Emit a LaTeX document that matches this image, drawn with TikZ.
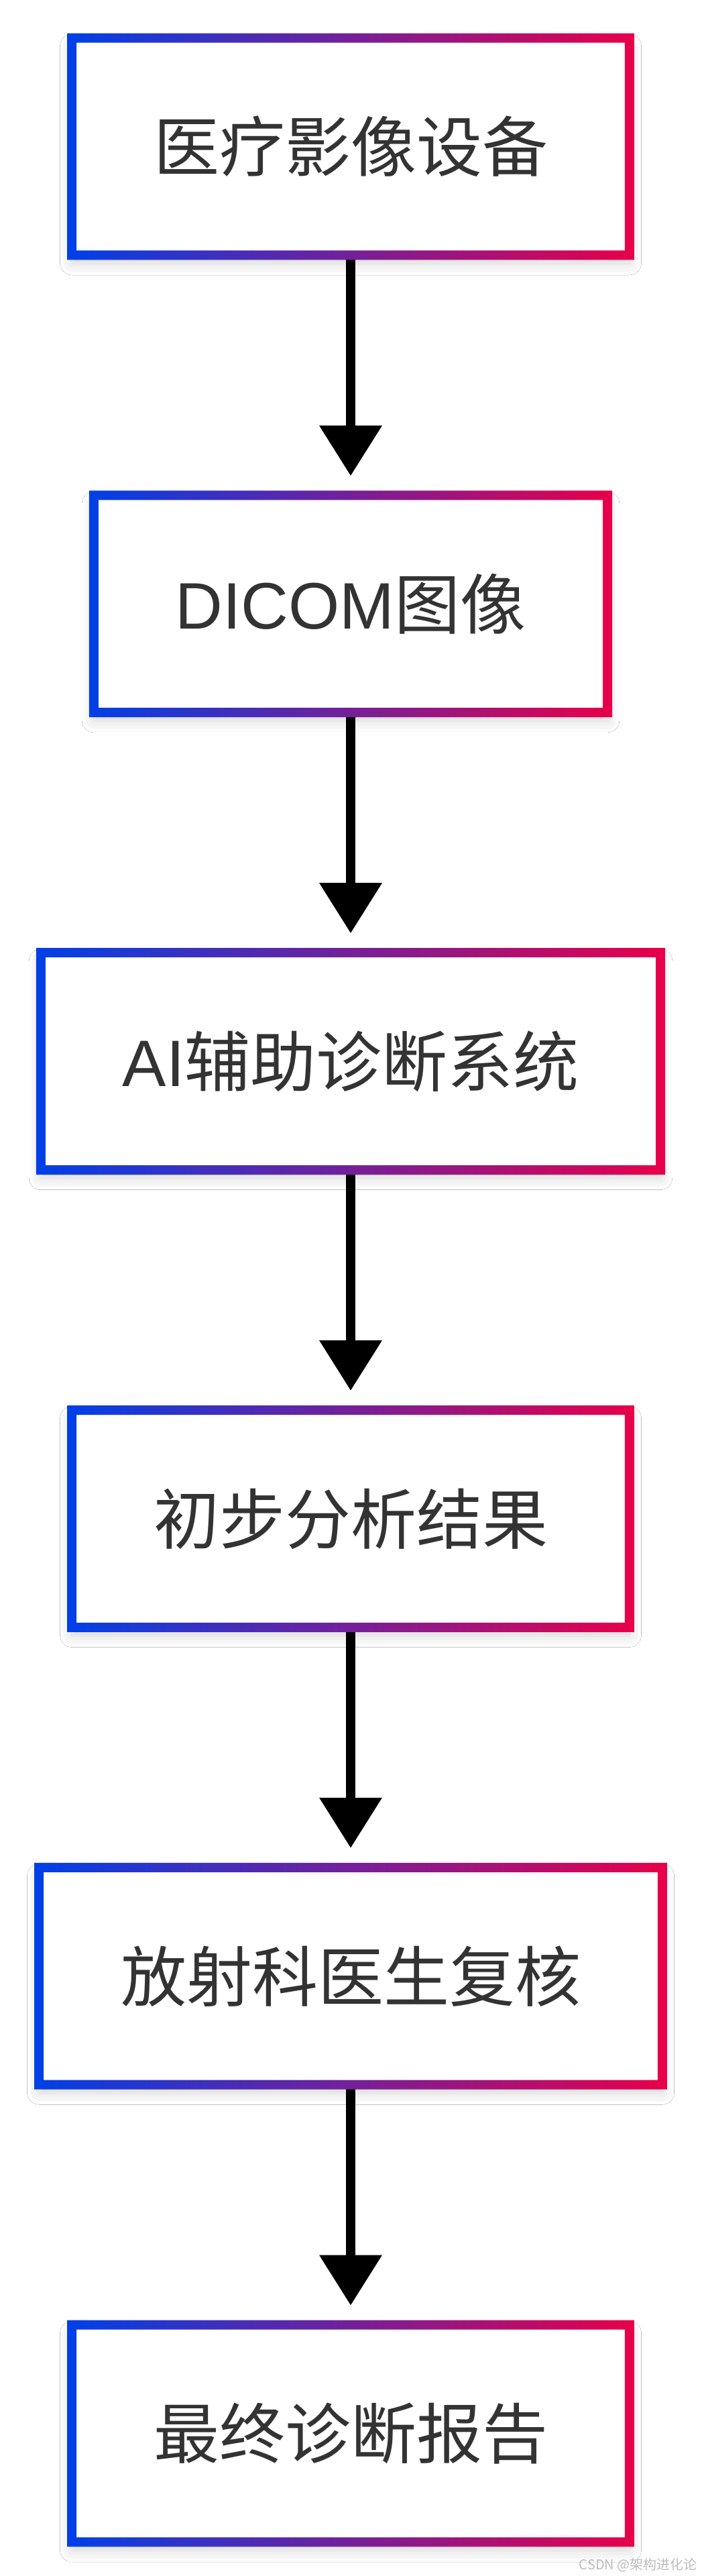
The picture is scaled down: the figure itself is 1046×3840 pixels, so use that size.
\documentclass[tikz,border=0pt]{standalone}
\usepackage{fontspec}
\newfontfamily\cjkfont{Noto Sans CJK SC}
\newfontfamily\latinfont{Liberation Sans}
\usetikzlibrary{positioning,arrows.meta,shadows.blur}
\definecolor{ringblue}{HTML}{0040E8}
\definecolor{ringred}{HTML}{E8004A}
\definecolor{labelgray}{HTML}{333333}
\definecolor{markgray}{HTML}{BDBDBD}
\tikzset{
  stage/.style={rectangle,fill=white,text=labelgray,
    font=\cjkfont\fontsize{49pt}{58pt}\selectfont,
    inner xsep=60.75pt,inner ysep=0pt,minimum height=161.5pt,
    blur shadow={shadow xshift=0pt,shadow yshift=-6pt,
      shadow blur radius=9pt,shadow opacity=18}},
  flow/.style={draw=black,line width=7pt,
    -{Triangle[width=45pt,length=37.5pt]},shorten >=14.5pt},
  ring/.style={left color=ringblue,right color=ringred,even odd rule},
  credit/.style={text=markgray,font=\cjkfont\fontsize{10pt}{12pt}\selectfont,
    inner sep=0pt,anchor=south east}
}

\begin{document}
\begin{tikzpicture}[x=0.5pt,y=-0.5pt,node distance=179pt]
  \useasboundingbox[fill=white] (0,0) rectangle (1046,3840);

  % stages
  \node[stage] (equip) at (523,218.5) {医疗影像设备};
  \node[stage,below=of equip] (dicom) {{\latinfont DICOM}图像};
  \node[stage,below=of dicom] (aisys) {{\latinfont AI}辅助诊断系统};
  \node[stage,below=of aisys] (first) {初步分析结果};
  \node[stage,below=of first] (review) {放射科医生复核};
  \node[stage,below=of review] (report) {最终诊断报告};

  \foreach \a/\b in {equip/dicom,dicom/aisys,aisys/first,first/review,review/report}
    \draw[flow] (\a) -- (\b);

  % gradient frames
  \foreach \n in {equip,dicom,aisys,first,review,report}
    \shade[ring] ([shift={(-3.5pt,-3.5pt)}]\n.south west) rectangle ([shift={(3.5pt,3.5pt)}]\n.north east)
      ([shift={(3.5pt,3.5pt)}]\n.south west) rectangle ([shift={(-3.5pt,-3.5pt)}]\n.north east);

  \node[credit] (watermark) at (1040,3834) {CSDN @架构进化论};
\end{tikzpicture}
\end{document}
